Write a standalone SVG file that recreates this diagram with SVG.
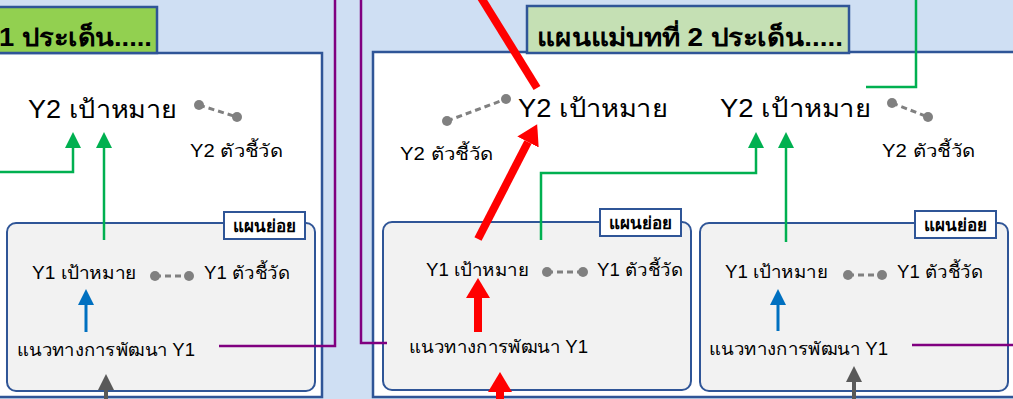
<svg xmlns="http://www.w3.org/2000/svg" width="1013" height="399" viewBox="0 0 1013 399">
<defs>
<style>
.panel{fill:#ffffff;stroke:#2f5597;stroke-width:2.5}
.sub{fill:#f2f2f2;stroke:#2f5597;stroke-width:2}
.tag{fill:#ffffff;stroke:#2f5597;stroke-width:2}
.t{font-family:"Liberation Sans","Noto Sans",sans-serif;fill:#000}
.big{font-size:25px}
.mid{font-size:18px}
.tagt{font-size:17px;font-weight:bold}
.title{font-size:25px;font-weight:bold}
.g{fill:none;stroke:#00b050;stroke-width:2.5}
.b{fill:none;stroke:#0070c0;stroke-width:3}
.gr{fill:none;stroke:#595959;stroke-width:4}
.r{fill:none;stroke:#ff0000;stroke-width:8}
.p{fill:none;stroke:#800080;stroke-width:2.5}
.dash{stroke:#808080;stroke-width:3;stroke-dasharray:6 4}
.dot{fill:#808080}
</style>
<marker id="ag" markerUnits="userSpaceOnUse" markerWidth="16" markerHeight="16" refX="0" refY="8" orient="auto" viewBox="0 0 16 16"><path d="M0,0 L16,8 L0,16 Z" fill="#00b050"/></marker>
<marker id="ab" markerUnits="userSpaceOnUse" markerWidth="16" markerHeight="16" refX="0" refY="8" orient="auto" viewBox="0 0 16 16"><path d="M0,0 L16,8 L0,16 Z" fill="#0070c0"/></marker>
<marker id="agr" markerUnits="userSpaceOnUse" markerWidth="16" markerHeight="16" refX="0" refY="8" orient="auto" viewBox="0 0 16 16"><path d="M0,0 L16,8 L0,16 Z" fill="#595959"/></marker>
<marker id="ar" markerUnits="userSpaceOnUse" markerWidth="20" markerHeight="24" refX="0" refY="12" orient="auto" viewBox="0 0 20 24"><path d="M0,0 L20,12 L0,24 Z" fill="#ff0000"/></marker>
</defs>
<rect x="0" y="0" width="1013" height="399" fill="#cfdff3"/>

<g id="panel-left">
<rect class="panel" x="-5" y="53" width="327" height="344"/>
</g>
<g id="title-left">
<rect x="-5" y="7" width="162" height="46" fill="#92d050" stroke="#2f5597" stroke-width="2.5"/>
<text class="t title" x="-1" y="46" textLength="153" lengthAdjust="spacingAndGlyphs">1 ประเด็น.....</text>
</g>
<g id="panel-right">
<rect class="panel" x="373" y="52" width="650" height="345"/>
</g>
<g id="title-right">
<rect x="527" y="6" width="322" height="47" fill="#c5e0b4" stroke="#2f5597" stroke-width="2.5"/>
<text class="t title" x="537" y="46" textLength="306" lengthAdjust="spacingAndGlyphs">แผนแม่บทที่ 2 ประเด็น.....</text>
</g>

<g id="sub-left">
<rect class="sub" x="7" y="223" width="308" height="168" rx="9"/>
<rect class="tag" x="224" y="212" width="81" height="27"/>
<text class="t tagt" x="233" y="232" textLength="63" lengthAdjust="spacingAndGlyphs">แผนย่อย</text>
</g>
<g id="sub-mid">
<rect class="sub" x="383" y="222" width="308" height="168" rx="9"/>
<rect class="tag" x="600" y="209" width="81" height="27"/>
<text class="t tagt" x="609" y="229" textLength="63" lengthAdjust="spacingAndGlyphs">แผนย่อย</text>
</g>
<g id="sub-right">
<rect class="sub" x="700" y="223" width="308" height="168" rx="9"/>
<rect class="tag" x="915" y="211" width="81" height="27"/>
<text class="t tagt" x="924" y="231" textLength="63" lengthAdjust="spacingAndGlyphs">แผนย่อย</text>
</g>

<g id="y2-goal-left"><text class="t big" x="28" y="118" textLength="149" lengthAdjust="spacingAndGlyphs">Y2 เป้าหมาย</text></g>
<g id="y2-ind-left"><text class="t mid" x="190" y="157" textLength="93" lengthAdjust="spacingAndGlyphs">Y2 ตัวชี้วัด</text></g>
<g id="y2-goal-mid"><text class="t big" x="518" y="117" textLength="150" lengthAdjust="spacingAndGlyphs">Y2 เป้าหมาย</text></g>
<g id="y2-ind-mid"><text class="t mid" x="400" y="160" textLength="94" lengthAdjust="spacingAndGlyphs">Y2 ตัวชี้วัด</text></g>
<g id="y2-goal-right"><text class="t big" x="720" y="117" textLength="151" lengthAdjust="spacingAndGlyphs">Y2 เป้าหมาย</text></g>
<g id="y2-ind-right"><text class="t mid" x="882" y="157" textLength="94" lengthAdjust="spacingAndGlyphs">Y2 ตัวชี้วัด</text></g>

<g id="y1-goal-left"><text class="t mid" x="32" y="279" textLength="105" lengthAdjust="spacingAndGlyphs">Y1 เป้าหมาย</text></g>
<g id="y1-ind-left"><text class="t mid" x="204" y="279" textLength="86" lengthAdjust="spacingAndGlyphs">Y1 ตัวชี้วัด</text></g>
<g id="y1-dev-left"><text class="t mid" x="17" y="356" textLength="178" lengthAdjust="spacingAndGlyphs">แนวทางการพัฒนา Y1</text></g>
<g id="y1-goal-mid"><text class="t mid" x="426" y="276" textLength="103" lengthAdjust="spacingAndGlyphs">Y1 เป้าหมาย</text></g>
<g id="y1-ind-mid"><text class="t mid" x="597" y="276" textLength="86" lengthAdjust="spacingAndGlyphs">Y1 ตัวชี้วัด</text></g>
<g id="y1-dev-mid"><text class="t mid" x="409" y="353" textLength="179" lengthAdjust="spacingAndGlyphs">แนวทางการพัฒนา Y1</text></g>
<g id="y1-goal-right"><text class="t mid" x="725" y="278" textLength="103" lengthAdjust="spacingAndGlyphs">Y1 เป้าหมาย</text></g>
<g id="y1-ind-right"><text class="t mid" x="897" y="278" textLength="86" lengthAdjust="spacingAndGlyphs">Y1 ตัวชี้วัด</text></g>
<g id="y1-dev-right"><text class="t mid" x="709" y="355" textLength="179" lengthAdjust="spacingAndGlyphs">แนวทางการพัฒนา Y1</text></g>

<g id="connectors">
<line class="dash" x1="199" y1="105" x2="237" y2="117"/><circle class="dot" cx="199" cy="105" r="5"/><circle class="dot" cx="237" cy="117" r="5"/>
<line class="dash" x1="447" y1="121" x2="506" y2="99"/><circle class="dot" cx="447" cy="121" r="5"/><circle class="dot" cx="506" cy="99" r="5"/>
<line class="dash" x1="892" y1="103" x2="928" y2="117"/><circle class="dot" cx="892" cy="103" r="5"/><circle class="dot" cx="928" cy="117" r="5"/>
<line class="dash" x1="155" y1="276" x2="189" y2="276"/><circle class="dot" cx="155" cy="276" r="5"/><circle class="dot" cx="189" cy="276" r="5"/>
<line class="dash" x1="547" y1="272" x2="583" y2="272"/><circle class="dot" cx="547" cy="272" r="5"/><circle class="dot" cx="583" cy="272" r="5"/>
<line class="dash" x1="848" y1="275" x2="882" y2="275"/><circle class="dot" cx="848" cy="275" r="5"/><circle class="dot" cx="882" cy="275" r="5"/>

<path class="g" d="M104,240 V148" marker-end="url(#ag)"/>
<path class="g" d="M-2,172 H73 V148" marker-end="url(#ag)"/>
<path class="g" d="M541,240 V173 H756 V148" marker-end="url(#ag)"/>
<path class="g" d="M786,242 V148" marker-end="url(#ag)"/>
<path class="g" d="M916,-2 V87 H866"/>

<path class="b" d="M86,332 V305" marker-end="url(#ab)"/>
<path class="b" d="M778,331 V305" marker-end="url(#ab)"/>
<path class="gr" d="M106,402 V390" marker-end="url(#agr)"/>
<path class="gr" d="M854,402 V382" marker-end="url(#agr)"/>

<path class="p" d="M335,-2 V346 H219"/>
<path class="p" d="M361,-2 V343 H387"/>
<path class="p" d="M912,345 H1015"/>

<path class="r" d="M480,-4 L537,88"/>
<path class="r" d="M478,239 L528,142" marker-end="url(#ar)"/>
<path class="r" d="M478,332 V298" marker-end="url(#ar)"/>
<path class="r" d="M500,404 V392" marker-end="url(#ar)"/>
</g>
</svg>
